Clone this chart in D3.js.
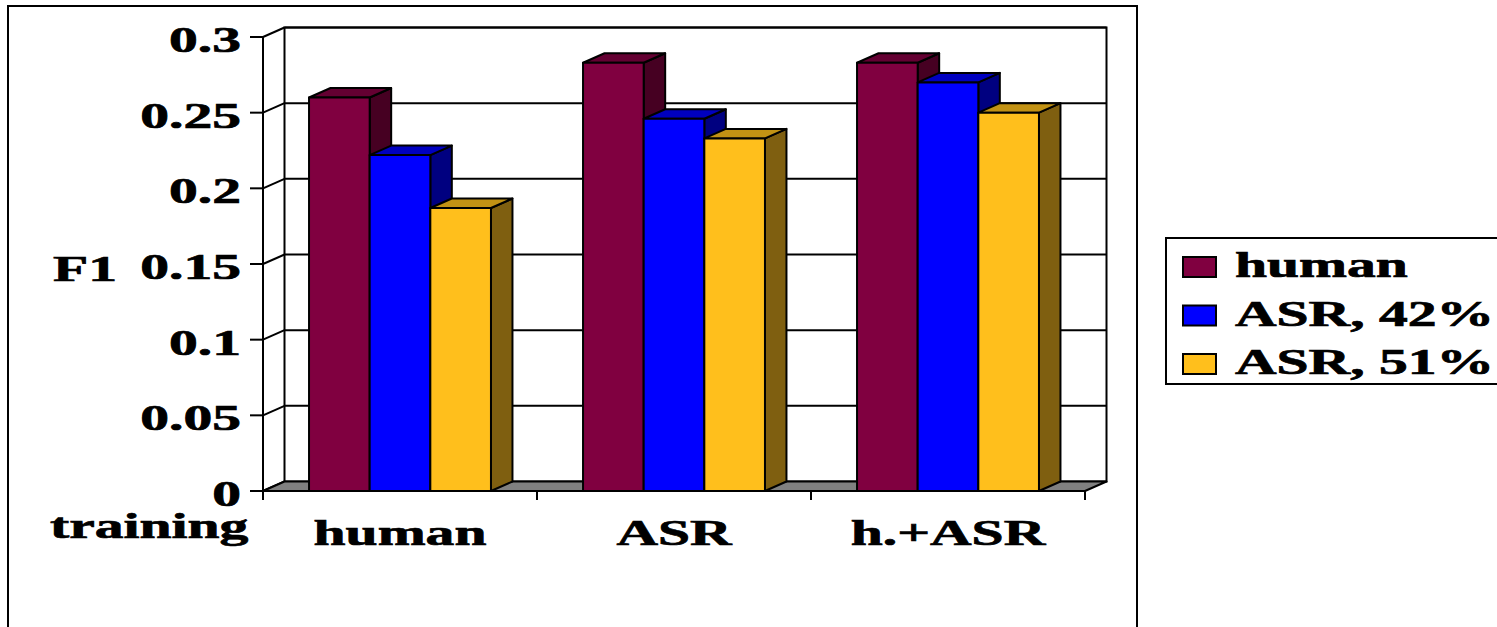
<!DOCTYPE html>
<html><head><meta charset="utf-8">
<script src="https://cdn.jsdelivr.net/npm/d3@7"></script>
<style>html,body{margin:0;padding:0;background:#fff;overflow:hidden}</style>
</head><body>
<svg id="chart" width="1497" height="627"></svg>
<script>
const categories = ["human", "ASR", "h.+ASR"];
const seriesNames = ["human", "ASR, 42%", "ASR, 51%"];
const humanVals = [0.260, 0.283, 0.283];
const asr42Vals = [0.222, 0.246, 0.270];
const asr51Vals = [0.187, 0.233, 0.250];
const yTicks = [0, 0.05, 0.1, 0.15, 0.2, 0.25, 0.3];
const yTickLabels = ["0", "0.05", "0.1", "0.15", "0.2", "0.25", "0.3"];
const xAxisTitle = "training";
const yAxisTitle = "F1";

const seriesVals = [humanVals, asr42Vals, asr51Vals];
const front = ["#800040", "#0000ff", "#ffbf1c"];
const topC = ["#640032", "#0000c0", "#c29214"];
const sideC = ["#460022", "#000080", "#7f5f10"];

const svg = d3.select("#chart");
const FONT = "'Liberation Serif','Times New Roman',serif";
const SX = 1.6;
const DX = 21.5, DY = -9.5;

function label(sel) {
  return sel.attr("font-family", FONT).attr("font-weight", "bold").attr("font-size", 36)
    .attr("fill", "#000").attr("stroke", "#000").attr("stroke-width", 0.7);
}

const x0 = d3.scaleBand().domain(categories).range([263, 1085]).padding(0);
const bw = x0.bandwidth();
const gap = bw * 0.168;
const x1 = d3.scaleBand().domain(seriesNames).range([gap, bw - gap]).padding(0);
const y = d3.scaleLinear().domain([0, 0.3]).range([491, 37]);

// outer frame
svg.append("rect").attr("x", 8).attr("y", 6).attr("width", 1129).attr("height", 660)
  .attr("fill", "none").attr("stroke", "#000").attr("stroke-width", 2);

const xL = x0.range()[0], xR = x0.range()[1];
const y0 = y(0), yTop = y(0.3);

// back wall
svg.append("rect").attr("x", xL + DX).attr("y", yTop + DY).attr("width", xR - xL)
  .attr("height", y0 - yTop).attr("fill", "#fff").attr("stroke", "#000").attr("stroke-width", 2);

// gridlines on back wall and side wall
yTicks.forEach(t => {
  if (t > 0) {
    svg.append("line").attr("x1", xL + DX).attr("x2", xR + DX)
      .attr("y1", y(t) + DY).attr("y2", y(t) + DY)
      .attr("stroke", "#000").attr("stroke-width", 2);
  }
  svg.append("line").attr("x1", xL).attr("y1", y(t)).attr("x2", xL + DX).attr("y2", y(t) + DY)
    .attr("stroke", "#000").attr("stroke-width", 2);
});

// floor
svg.append("polygon")
  .attr("points", [[xL, y0], [xR, y0], [xR + DX, y0 + DY], [xL + DX, y0 + DY]].map(p => p.join(",")).join(" "))
  .attr("fill", "#808080").attr("stroke", "#000").attr("stroke-width", 2).attr("stroke-linejoin", "round");

// bars
categories.forEach((c, ci) => {
  seriesNames.forEach((s, si) => {
    const v = seriesVals[si][ci];
    const bx = x0(c) + x1(s), w = x1.bandwidth();
    const ty = y(v);
    const g = svg.append("g").attr("stroke", "#000").attr("stroke-width", 2).attr("stroke-linejoin", "round");
    g.append("polygon").attr("points", [[bx + w, ty], [bx + w + DX, ty + DY], [bx + w + DX, y0 + DY], [bx + w, y0]].map(p => p.join(",")).join(" "))
      .attr("fill", sideC[si]);
    g.append("polygon").attr("points", [[bx, ty], [bx + DX, ty + DY], [bx + w + DX, ty + DY], [bx + w, ty]].map(p => p.join(",")).join(" "))
      .attr("fill", topC[si]);
    g.append("rect").attr("x", bx).attr("y", ty).attr("width", w).attr("height", y0 - ty)
      .attr("fill", front[si]);
  });
});

// front y axis
svg.append("line").attr("x1", xL).attr("x2", xL).attr("y1", yTop).attr("y2", y0 + 9)
  .attr("stroke", "#000").attr("stroke-width", 2);
// front x axis
svg.append("line").attr("x1", xL).attr("x2", xR).attr("y1", y0).attr("y2", y0)
  .attr("stroke", "#000").attr("stroke-width", 2);
// y ticks & labels
yTicks.forEach((t, i) => {
  svg.append("line").attr("x1", xL - 13).attr("x2", xL).attr("y1", y(t)).attr("y2", y(t))
    .attr("stroke", "#000").attr("stroke-width", 2);
  label(svg.append("text").attr("transform", `translate(241,${y(t) + 15}) scale(${SX},1)`)
    .attr("text-anchor", "end")).text(yTickLabels[i]);
});
// x ticks
const xTickPos = categories.map(c => x0(c)).concat([xR]);
xTickPos.forEach(px => {
  svg.append("line").attr("x1", px).attr("x2", px).attr("y1", y0).attr("y2", y0 + 9)
    .attr("stroke", "#000").attr("stroke-width", 2);
});
// category labels
categories.forEach(c => {
  label(svg.append("text").attr("transform", `translate(${x0(c) + bw / 2},545) scale(${SX},1)`)
    .attr("text-anchor", "middle")).text(c);
});
// axis titles
label(svg.append("text").attr("transform", `translate(50,538) scale(${SX},1)`)).text(xAxisTitle);
label(svg.append("text").attr("transform", `translate(53,281) scale(${SX},1)`)).text(yAxisTitle);

// legend
svg.append("rect").attr("x", 1166).attr("y", 238).attr("width", 400).attr("height", 146)
  .attr("fill", "#fff").attr("stroke", "#000").attr("stroke-width", 2);
seriesNames.forEach((s, i) => {
  const by = 277 + i * 48.5;
  svg.append("rect").attr("x", 1183).attr("y", by - 20).attr("width", 33).attr("height", 20)
    .attr("fill", front[i]).attr("stroke", "#000").attr("stroke-width", 2);
  label(svg.append("text").attr("transform", `translate(1235,${by}) scale(${SX},1)`)).text(s);
});
</script>
</body></html>
